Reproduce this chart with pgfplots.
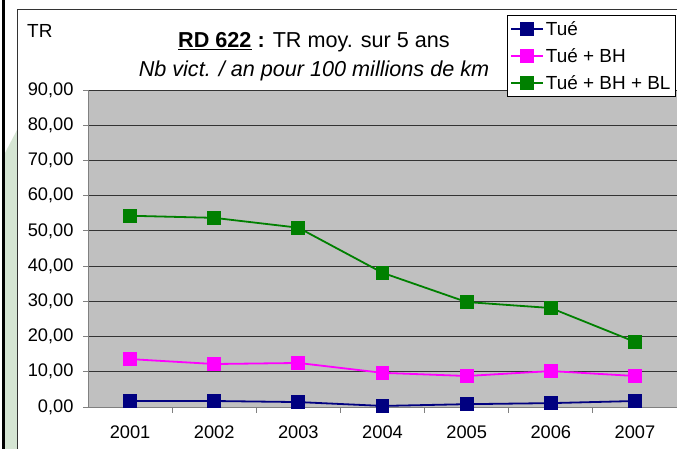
\documentclass[border=0pt]{standalone}
\usepackage{pgfplots}
\pgfplotsset{compat=1.18}
\usepackage{fontspec}
\setmainfont{Liberation Sans}
\definecolor{bg}{RGB}{192,192,192}
\definecolor{navyc}{RGB}{0,0,128}
\definecolor{magc}{RGB}{255,0,255}
\definecolor{grnc}{RGB}{0,128,0}
\definecolor{leftgreen}{RGB}{213,229,211}
\definecolor{axgray}{RGB}{128,128,128}
\begin{document}
\begin{tikzpicture}[x=1bp,y=1bp]
\useasboundingbox (0,0) rectangle (677,449);
\fill[white] (0,0) rectangle (677,449);
\fill[leftgreen] (5,296) -- (17,319) -- (17,0) -- (5,0) -- cycle;
\draw[line width=2.2bp] (3.5,0) -- (3.5,449);
\draw[line width=1bp,black!80] (17.5,0) -- (17.5,439) -- (677,439);
\begin{axis}[
  scale only axis,
  width=589bp, height=317bp,
  at={(88bp,42bp)}, anchor=south west,
  xmin=0.5, xmax=7.5, ymin=0, ymax=90,
  xtick={1,2,3,4,5,6,7},
  xticklabels={2001,2002,2003,2004,2005,2006,2007},
  minor xtick={1.5,2.5,3.5,4.5,5.5,6.5},
  ytick={0,10,...,90},
  axis x line*=bottom, axis y line*=left,
  axis line style={draw=axgray, line width=0.8bp},
  tick align=outside,
  major x tick style={draw=none},
  minor x tick style={draw=axgray, line width=0.8bp},
  y tick style={draw=axgray, line width=0.8bp},
  major tick length=5bp, minor tick length=6bp,
  ymajorgrids, grid style={draw=black!80, line width=0.8bp},
  axis background/.style={fill=bg},
  tick label style={font=\fontsize{18.3}{21}\selectfont},
  yticklabel style={xshift=-6bp},
  xticklabel style={yshift=-10bp},
  /pgf/number format/.cd, fixed, fixed zerofill, precision=2, use comma, assume math mode=true,
  /pgfplots/.cd,
  legend style={at={(0.711,1.237)}, anchor=north west, draw=black, fill=white,
    font=\fontsize{19}{22}\selectfont, row sep=7.5bp, inner xsep=3bp, inner ysep=4bp,
    line width=0.8bp},
  legend cell align=left,
  legend image code/.code={\draw[mark repeat=2,mark phase=2] plot coordinates {(0bp,0bp)(16bp,0bp)(32bp,0bp)};},
  every axis plot/.append style={line width=1.8bp, mark=square*, mark size=6bp},
]
\addplot[color=navyc, mark options={fill=navyc}] coordinates {(1,1.7)(2,1.7)(3,1.4)(4,0.3)(5,0.8)(6,1.1)(7,1.7)};
\addlegendentry{Tué}
\addplot[color=magc, mark options={fill=magc}] coordinates {(1,13.6)(2,12.2)(3,12.5)(4,9.7)(5,8.8)(6,10.2)(7,8.8)};
\addlegendentry{Tué + BH}
\addplot[color=grnc, mark options={fill=grnc}] coordinates {(1,54.3)(2,53.7)(3,50.9)(4,38.1)(5,29.8)(6,28.1)(7,18.5)};
\addlegendentry{Tué + BH + BL}
\end{axis}
\node[anchor=base west, font=\fontsize{19}{21}\selectfont, inner sep=0] at (27,411) {TR};
\node[anchor=base, font=\fontsize{21.7}{25}\selectfont, inner sep=0] at (314,401) {\textbf{\underline{RD 622} :} TR moy. sur 5 ans};
\node[anchor=base, font=\fontsize{21.7}{25}\selectfont\itshape, inner sep=0] at (314,372) {Nb vict. / an pour 100 millions de km};
\end{tikzpicture}
\end{document}
